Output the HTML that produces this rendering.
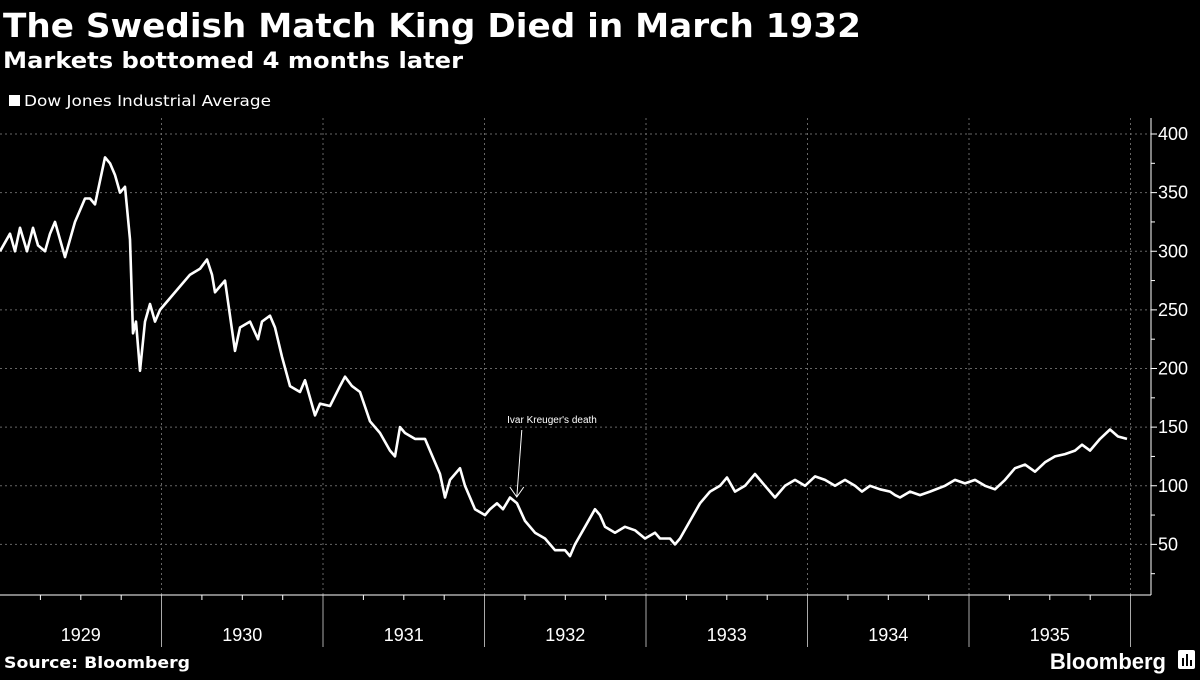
<!DOCTYPE html>
<html><head><meta charset="utf-8"><style>
body{margin:0;background:#000;width:1200px;height:675px;overflow:hidden;font-family:"Liberation Sans",sans-serif;color:#fff}
</style></head><body>
<svg width="1200" height="675" xmlns="http://www.w3.org/2000/svg">
<rect width="1200" height="675" fill="#000"/>
<text x="3" y="37" font-size="33" font-weight="bold" fill="#fff" font-family="DejaVu Sans, sans-serif" textLength="858" lengthAdjust="spacingAndGlyphs">The Swedish Match King Died in March 1932</text>
<text x="3" y="68" font-size="22" font-weight="bold" fill="#fff" font-family="DejaVu Sans, sans-serif" textLength="460" lengthAdjust="spacingAndGlyphs">Markets bottomed 4 months later</text>
<g><rect x="9" y="95" width="11" height="11" fill="#fff"/><text x="24" y="106" font-size="15" fill="#fff" font-family="DejaVu Sans, sans-serif" textLength="247" lengthAdjust="spacingAndGlyphs">Dow Jones Industrial Average</text></g>
<g id="grid"></g><g id="axes"></g>
<path id="line" fill="none" stroke="#fff" stroke-width="2.6" stroke-linejoin="round"/>
<g>
<text x="552" y="423" font-size="10" fill="#fff" text-anchor="middle">Ivar Kreuger's death</text>
<line id="ann" stroke="#fff" stroke-width="1"/><path id="annHead" fill="none" stroke="#fff" stroke-width="1"/>
</g>
<text x="4" y="668" font-size="16" font-weight="bold" fill="#fff" font-family="DejaVu Sans, sans-serif" textLength="186" lengthAdjust="spacingAndGlyphs">Source: Bloomberg</text>
<text x="1166" y="669" font-size="22" font-weight="bold" fill="#fff" text-anchor="end">Bloomberg</text>
<g><rect x="1178" y="650" width="17" height="19" rx="2" fill="#fff"/><rect x="1182" y="658" width="2" height="8" fill="#000"/><rect x="1186" y="654" width="2" height="12" fill="#000"/><rect x="1190" y="660" width="2" height="6" fill="#000"/></g>
</svg>
<script>
const xs=[0,10,15,20,27,33,38,45,50,55,60,65,70,75,80,85,90,95,100,105,110,115,120,125,130,133,136,140,145,150,155,160,170,180,190,200,207,212,215,220,225,230,235,240,250,258,262,270,275,282,290,300,305,315,320,330,340,345,352,360,370,380,390,395,400,405,415,425,430,440,445,450,460,465,475,485,490,497,503,510,517,525,535,545,555,565,570,575,585,595,600,605,615,625,635,645,655,660,670,675,680,690,700,710,720,727,735,745,755,765,775,785,795,805,815,825,835,845,855,862,870,880,890,895,900,910,920,930,945,955,965,975,985,995,1005,1015,1025,1035,1045,1055,1065,1075,1082,1090,1100,1110,1118,1127];
const dates=xs.map(x=>1929+x/161.5);
const values=[300,315,300,320,300,320,305,300,315,325,310,295,310,325,335,345,345,340,360,380,375,365,350,355,310,230,240,198,240,255,240,250,260,270,280,285,293,280,265,270,275,245,215,235,240,225,240,245,235,210,185,180,190,160,170,168,185,193,185,180,155,145,130,125,150,145,140,140,130,110,90,105,115,100,80,75,80,85,80,90,85,70,60,55,45,45,40,50,65,80,75,65,60,65,62,55,60,55,55,50,55,70,85,95,100,107,95,100,110,100,90,100,105,100,108,105,100,105,100,95,100,97,95,92,90,95,92,95,100,105,102,105,100,97,105,115,118,112,120,125,127,130,135,130,140,148,142,140];
const years=["1929","1930","1931","1932","1933","1934","1935"];
const yTicks=[50,100,150,200,250,300,350,400];
const X=d=>(d-1929)*161.5;
const Y=v=>134+(400-v)*1.1725;
const ns="http://www.w3.org/2000/svg";
const mk=(t,a,p)=>{const e=document.createElementNS(ns,t);for(const k in a)e.setAttribute(k,a[k]);p.appendChild(e);return e;};
const g=document.getElementById('grid'),ax=document.getElementById('axes');
yTicks.forEach(v=>{
 const l=mk('line',{x1:0,x2:1151,y1:Y(v),y2:Y(v),stroke:'#666','stroke-dasharray':'2,3'},g);
 
 
 const t=mk('text',{x:1158,y:Y(v)+6,'font-size':18,fill:'#fff'},ax);t.textContent=v;
 
 
 mk('line',{x1:1151,x2:1157,y1:Y(v),y2:Y(v),stroke:'#fff'},ax);
 if(v<400)mk('line',{x1:1151,x2:1155,y1:Y(v+25),y2:Y(v+25),stroke:'#fff'},ax);
});
mk('line',{x1:1151,x2:1155,y1:Y(25),y2:Y(25),stroke:'#fff'},ax);
years.forEach((y,i)=>{
 const x0=X(1929+i),x1=X(1930+i);
 if(i>0){const l=mk('line',{x1:x0,x2:x0,y1:118,y2:595,stroke:'#666','stroke-dasharray':'2,3'},g);
 
 }
 if(i>0)mk('line',{x1:x0,x2:x0,y1:595,y2:647,stroke:'#aaa'},ax);
 for(let q=1;q<4;q++)mk('line',{x1:x0+q*40.4,x2:x0+q*40.4,y1:595,y2:600,stroke:'#fff'},ax);
 const t=mk('text',{x:(x0+x1)/2,y:641,'font-size':18,fill:'#fff','text-anchor':'middle'},ax);t.textContent=y;
 
 
});
mk('line',{x1:X(1936),x2:X(1936),y1:118,y2:595,stroke:'#666','stroke-dasharray':'2,3'},g);
mk('line',{x1:X(1936),x2:X(1936),y1:595,y2:647,stroke:'#aaa'},ax);
mk('line',{x1:0,x2:1151,y1:595,y2:595,stroke:'#fff'},ax);
mk('line',{x1:1151,x2:1151,y1:118,y2:595,stroke:'#fff'},ax);
document.getElementById('line').setAttribute('d',dates.map((d,i)=>(i?'L':'M')+X(d).toFixed(1)+','+Y(values[i]).toFixed(1)).join(''));
const ad=1932.2,av=87,tx=X(ad),ty=Y(av)-4;
const a=document.getElementById('ann');a.setAttribute('x1',tx+5);a.setAttribute('y1',430);a.setAttribute('x2',tx);a.setAttribute('y2',ty);
document.getElementById('annHead').setAttribute('d',`M${tx-7},${ty-10}L${tx},${ty}L${tx+7},${ty-10}`);
</script>
</body></html>
